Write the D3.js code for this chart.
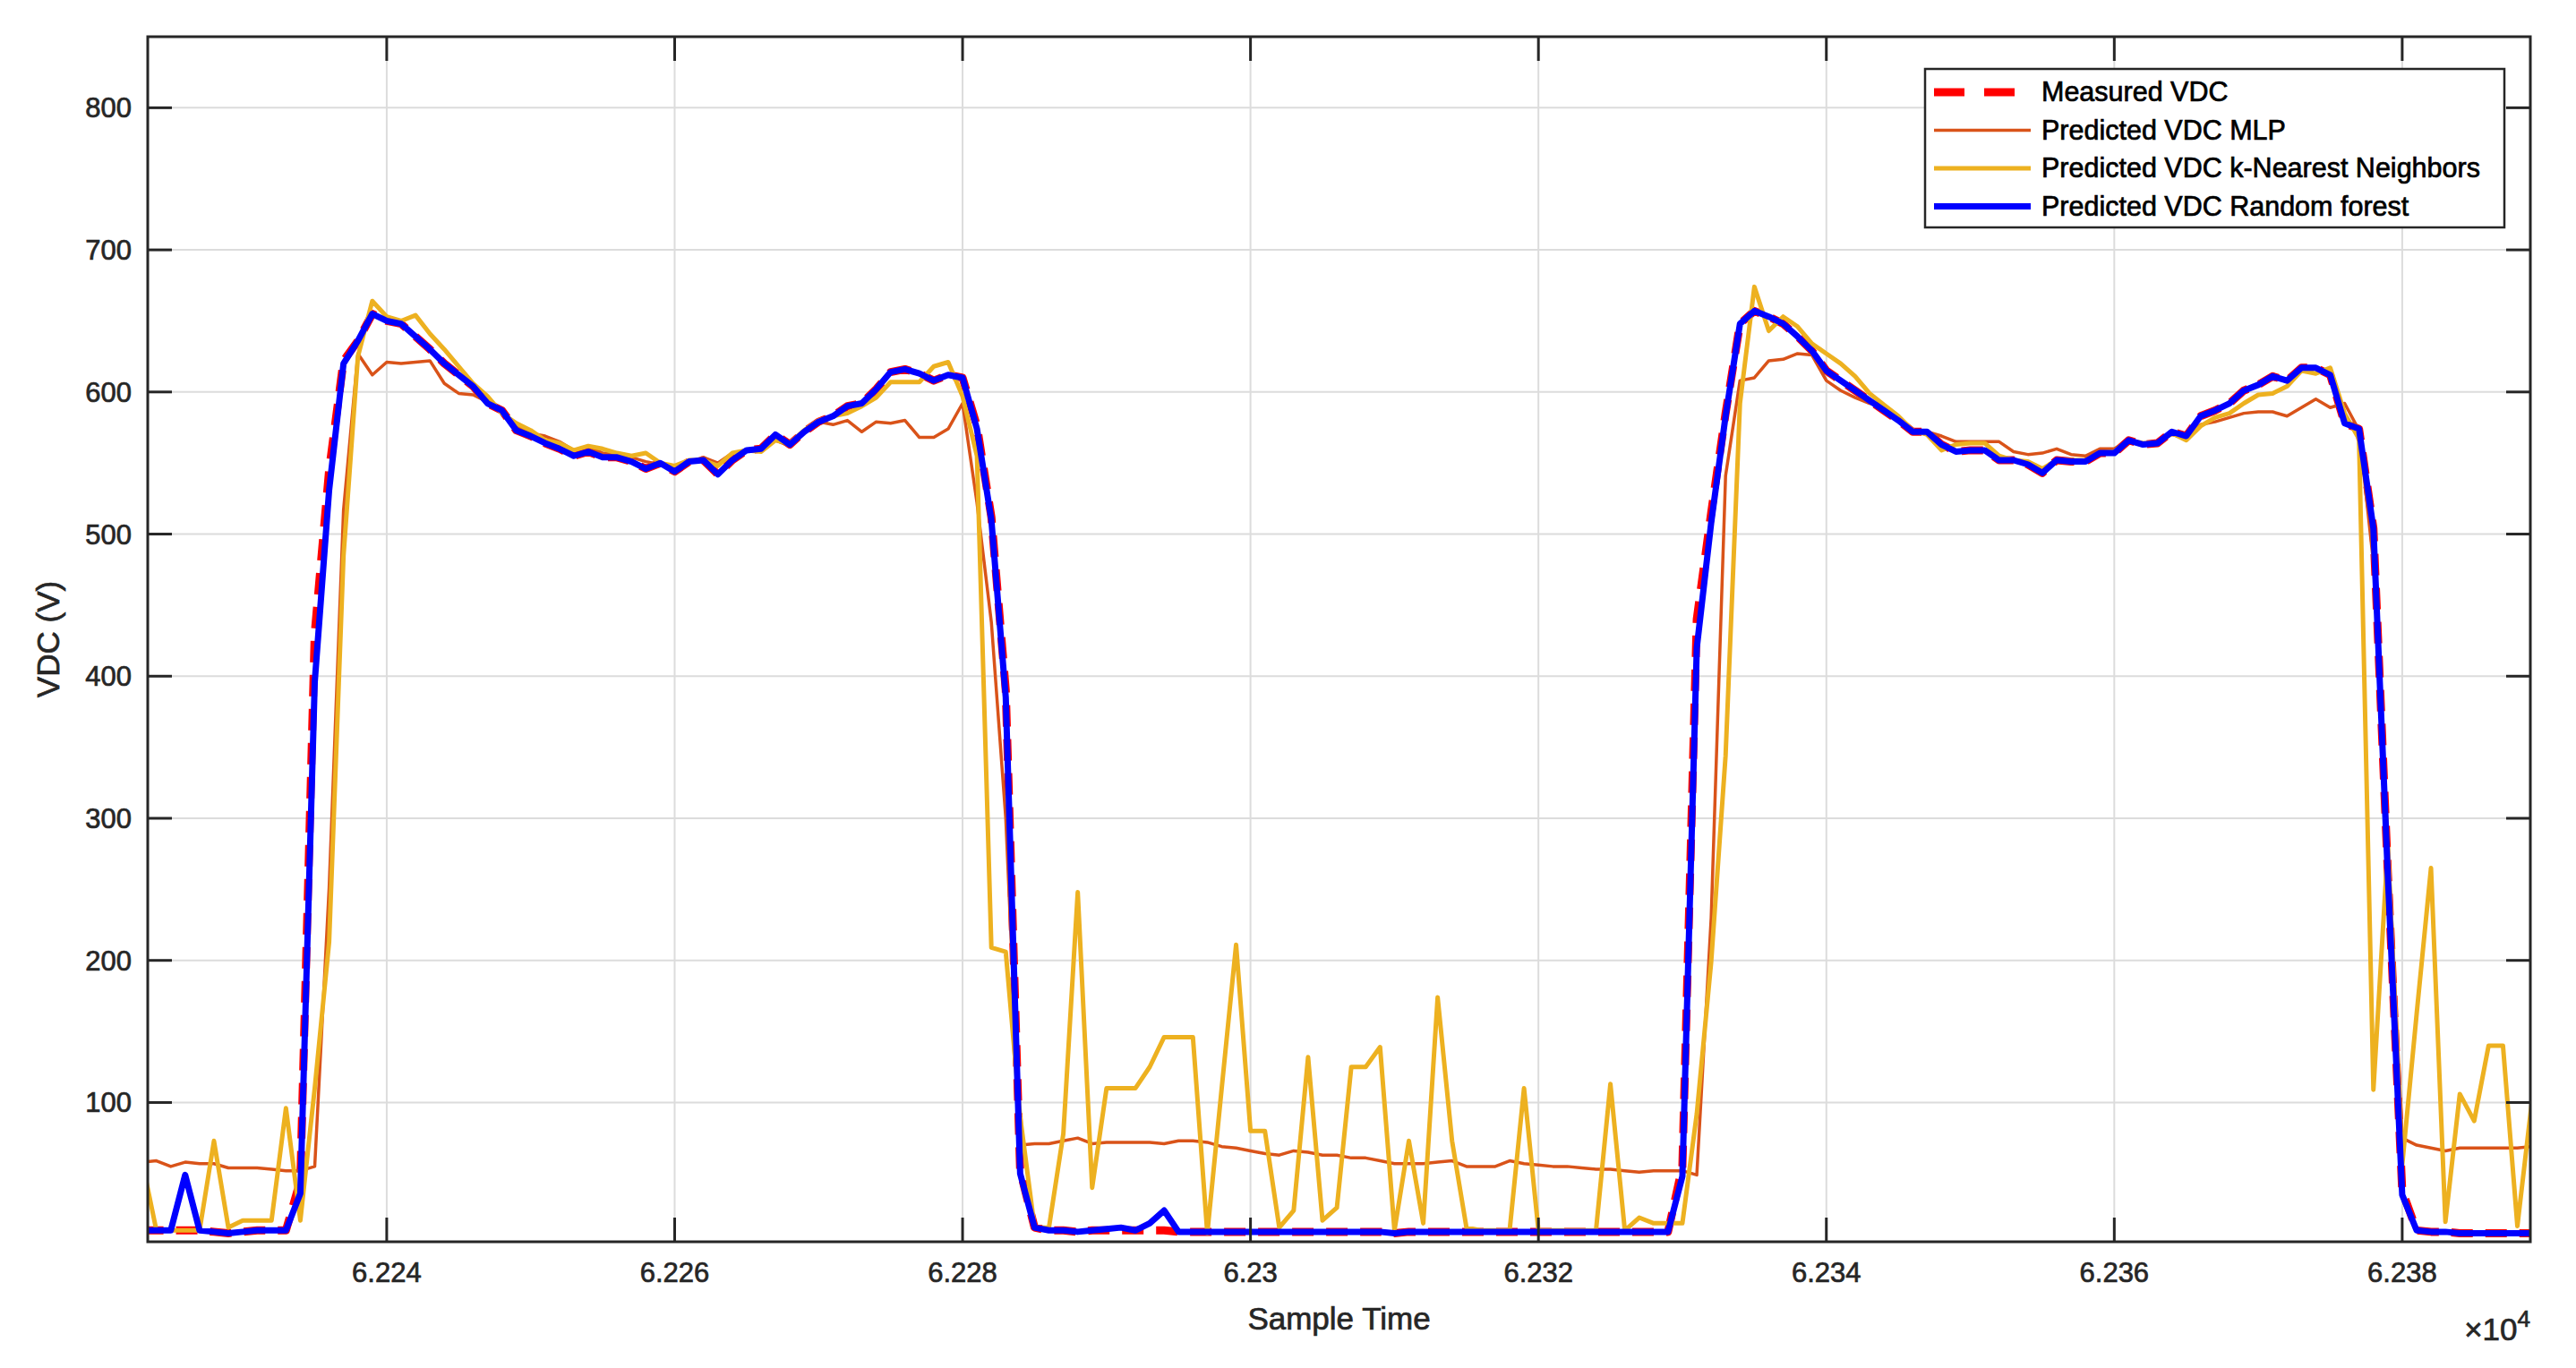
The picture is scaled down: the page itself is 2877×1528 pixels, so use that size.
<!DOCTYPE html>
<html><head><meta charset="utf-8">
<script src="https://cdn.jsdelivr.net/npm/d3@7"></script>
<style>html,body{margin:0;padding:0;background:#fff;} text{stroke-width:0.7px;}</style>
</head><body>
<svg id="chart" width="2877" height="1528"></svg>
<script>
const startSample = 62223;
const sampleTime = d3.range(startSample, 62390);
const xTicks = [62240, 62260, 62280, 62300, 62320, 62340, 62360, 62380];
const yTicks = [100, 200, 300, 400, 500, 600, 700, 800];
const seriesNames = ["Measured VDC", "Predicted VDC MLP", "Predicted VDC k-Nearest Neighbors", "Predicted VDC Random forest"];

const rfValues = [
10,10,10,49,10,9,8,9,10,10,10,36,396,531,620,636,655,650,648,639,630,620,612,604,592,587,573,569,
564,560,555,558,554,554,551,546,550,544,551,552,542,552,559,560,570,563,572,579,583,590,592,602,614,616,613,608,612,610,574,510,385,50,
12,10,10,9,10,11,12,10,15,24,9,
9,9,9,9,9,9,9,9,9,9,9,9,9,9,8,9,9,9,9,9,9,9,9,9,9,9,9,9,9,9,9,9,9,9,
48,420,508,583,648,657,653,648,639,629,615,608,601,594,
587,580,572,572,563,558,559,559,552,552,549,543,552,551,551,557,557,566,563,564,572,569,583,587,592,
601,605,611,608,617,617,612,578,574,504,260,35,10,9,9,8,8,8,8,8,8];

const measuredValues = [
10,10,10,10,10,9,8,9,10,10,10,45,430,545,622,636,655,650,648,639,630,620,612,604,592,587,573,569,
564,560,555,558,554,554,551,546,550,544,551,552,542,552,559,560,570,563,572,579,583,590,592,602,614,616,613,608,612,610,576,512,390,52,
12,10,10,9,10,10,10,10,10,10,9,
9,9,9,9,9,9,9,9,9,9,9,9,9,9,8,9,9,9,9,9,9,9,9,9,9,9,9,9,9,9,9,9,9,9,
55,440,515,585,648,657,653,648,639,629,615,608,601,594,
587,580,572,572,563,558,559,559,552,552,549,543,552,551,551,557,557,566,563,564,572,569,583,587,592,
601,605,611,608,617,617,612,578,574,504,262,38,10,9,9,8,8,8,8,8,8];

const knnValues = [
59,10,10,10,10,73,12,17,17,17,96,17,110,213,485,625,664,653,650,654,641,630,618,606,597,585,578,573,
566,564,559,562,560,557,555,557,550,548,552,552,548,557,559,558,566,564,573,580,583,585,590,596,607,607,607,618,621,597,555,209,206,90,
12,12,78,248,40,110,110,110,125,146,146,146,8,110,211,80,80,12,24,132,17,26,125,125,139,10,73,15,174,73,12,
10,10,10,110,10,10,10,10,10,113,10,19,15,15,15,92,199,344,592,674,643,653,646,634,627,620,611,599,
591,583,573,570,559,563,564,564,555,552,551,546,552,552,552,557,558,566,564,564,571,566,576,582,585,
592,598,599,604,615,613,617,585,567,109,280,56,162,265,16,106,87,140,140,13,100];

const mlpValues = [
58,59,55,58,57,57,54,54,54,53,52,52,55,251,517,627,612,621,620,621,622,606,599,598,593,585,576,571,
569,565,559,562,557,556,554,551,549,548,551,554,550,557,559,559,566,562,573,579,577,580,572,579,578,580,568,568,574,592,522,438,300,70,
71,71,73,75,71,72,72,72,72,71,73,73,72,69,68,66,64,63,66,65,63,63,61,61,59,57,57,57,58,59,55,
55,55,59,57,56,55,55,54,53,53,52,51,52,52,52,49,230,541,608,610,622,623,627,626,608,601,596,592,
590,582,573,572,569,565,565,565,565,558,556,557,560,556,555,560,560,566,564,565,570,568,577,579,582,
585,586,586,583,589,595,589,592,573,480,287,75,70,68,66,68,68,68,68,68,69];

const m = {left: 165, right: 2826, top: 41, bottom: 1387};
const svg = d3.select("#chart");
const font = "'Liberation Sans', Arial, sans-serif";
const axisColor = "#262626";

const x = d3.scaleLinear().domain([62223.4, 62388.9]).range([m.left, m.right]);
const y = d3.scaleLinear().domain([2, 850]).range([m.bottom, m.top]);

const grid = svg.append("g");
xTicks.forEach(t => grid.append("line").attr("x1", x(t)).attr("x2", x(t)).attr("y1", m.top).attr("y2", m.bottom)
  .attr("stroke", "#dcdcdc").attr("stroke-width", 2));
yTicks.forEach(t => grid.append("line").attr("y1", y(t)).attr("y2", y(t)).attr("x1", m.left).attr("x2", m.right)
  .attr("stroke", "#dcdcdc").attr("stroke-width", 2));

svg.append("clipPath").attr("id", "clip").append("rect")
  .attr("x", m.left).attr("y", m.top).attr("width", m.right - m.left).attr("height", m.bottom - m.top);
const plot = svg.append("g").attr("clip-path", "url(#clip)");
const lineGen = vals => d3.line().x((d, i) => x(sampleTime[i])).y(d => y(d))(vals);

const styles = [
  {vals: measuredValues, color: "#ff0000", w: 9, dash: "24,14"},
  {vals: mlpValues, color: "#d95319", w: 3.5, dash: null},
  {vals: knnValues, color: "#edb120", w: 5, dash: null},
  {vals: rfValues, color: "#0000ff", w: 7, dash: null}
];
styles.forEach(s => {
  plot.append("path").attr("d", lineGen(s.vals)).attr("fill", "none")
    .attr("stroke", s.color).attr("stroke-width", s.w)
    .attr("stroke-linejoin", "round")
    .attr("stroke-dasharray", s.dash);
});

const tickLen = 27;
const fmtX = d => String(+(d / 1e4).toFixed(4));
const ax = svg.append("g");
ax.append("rect").attr("x", m.left).attr("y", m.top).attr("width", m.right - m.left).attr("height", m.bottom - m.top)
  .attr("fill", "none").attr("stroke", axisColor).attr("stroke-width", 3);
const txt = (g) => g.attr("font-family", font).attr("fill", axisColor).attr("stroke", axisColor);
xTicks.forEach(t => {
  ax.append("line").attr("x1", x(t)).attr("x2", x(t)).attr("y1", m.bottom).attr("y2", m.bottom - tickLen).attr("stroke", axisColor).attr("stroke-width", 3);
  ax.append("line").attr("x1", x(t)).attr("x2", x(t)).attr("y1", m.top).attr("y2", m.top + tickLen).attr("stroke", axisColor).attr("stroke-width", 3);
  ax.append("text").attr("x", x(t)).attr("y", m.bottom + 45).attr("text-anchor", "middle")
    .attr("font-size", 31).call(txt).text(fmtX(t));
});
yTicks.forEach(t => {
  ax.append("line").attr("x1", m.left).attr("x2", m.left + tickLen).attr("y1", y(t)).attr("y2", y(t)).attr("stroke", axisColor).attr("stroke-width", 3);
  ax.append("line").attr("x1", m.right).attr("x2", m.right - tickLen).attr("y1", y(t)).attr("y2", y(t)).attr("stroke", axisColor).attr("stroke-width", 3);
  ax.append("text").attr("x", m.left - 18).attr("y", y(t) + 11).attr("text-anchor", "end")
    .attr("font-size", 31).call(txt).text(t);
});
ax.append("text").attr("x", (m.left + m.right) / 2).attr("y", 1485).attr("text-anchor", "middle")
  .attr("font-size", 35).call(txt).text("Sample Time");
ax.append("text").attr("transform", `translate(66,${(m.top + m.bottom) / 2}) rotate(-90)`).attr("text-anchor", "middle")
  .attr("font-size", 35).call(txt).text("VDC (V)");
const ex = ax.append("text").attr("x", m.right).attr("y", 1497).attr("text-anchor", "end")
  .attr("font-size", 35).call(txt);
ex.append("tspan").text("\u00d710");
ex.append("tspan").attr("dy", -15).attr("font-size", 26).text("4");

const lg = svg.append("g");
lg.append("rect").attr("x", 2150).attr("y", 77).attr("width", 2797 - 2150).attr("height", 254 - 77)
  .attr("fill", "#fff").attr("stroke", axisColor).attr("stroke-width", 2.5);
seriesNames.forEach((name, i) => {
  const yy = 103 + i * 42.5;
  const s = styles[i];
  lg.append("line").attr("x1", 2160).attr("x2", 2268).attr("y1", yy).attr("y2", yy)
    .attr("stroke", s.color).attr("stroke-width", s.w).attr("stroke-dasharray", s.dash ? "34,22" : null);
  lg.append("text").attr("x", 2280).attr("y", yy + 10).attr("font-family", font).attr("font-size", 30.5)
    .attr("fill", "#000").attr("stroke", "#000").text(name);
});
</script>
</body></html>
